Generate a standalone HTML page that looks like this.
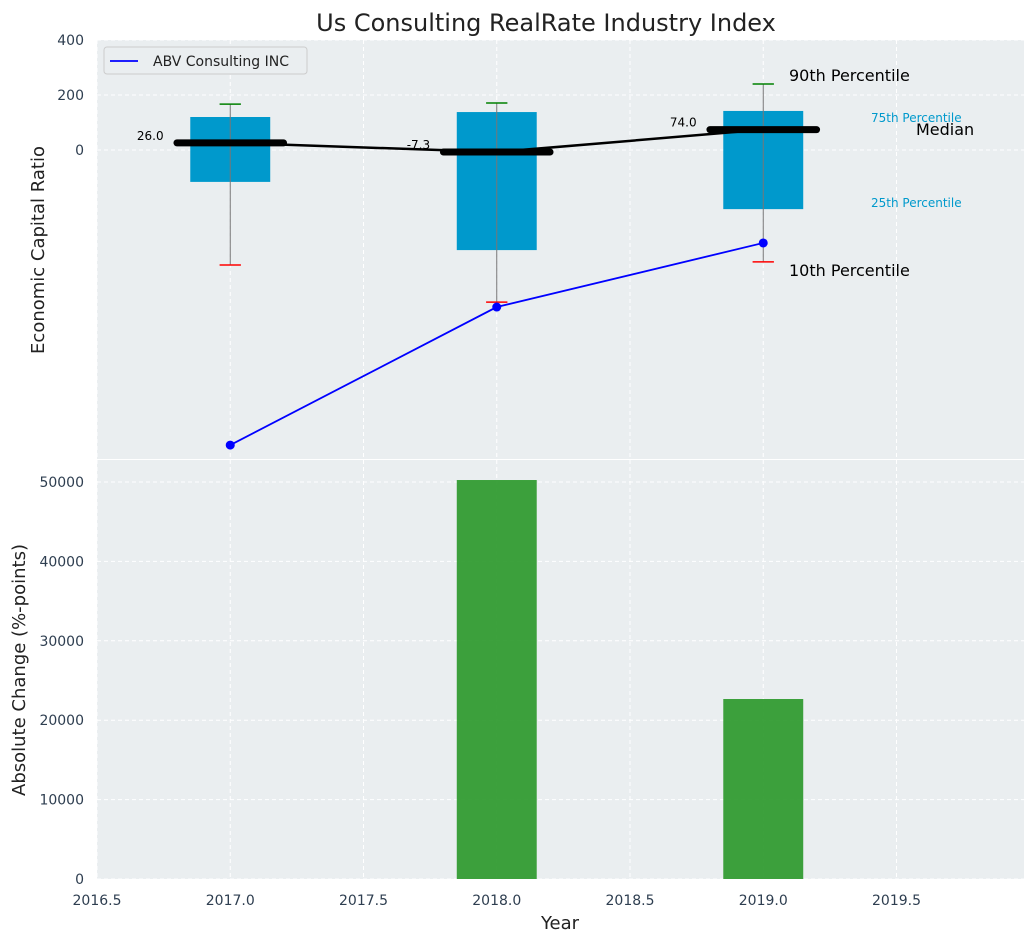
<!DOCTYPE html>
<html><head><meta charset="utf-8"><style>
body{margin:0;background:#fff;font-family:"Liberation Sans","DejaVu Sans",sans-serif}
svg text{font-family:"DejaVu Sans","Liberation Sans",sans-serif}
</style></head><body>
<svg id="c" width="1036" height="942" xmlns="http://www.w3.org/2000/svg"></svg>
<script>
const years=[2017,2018,2019];
const q75=[120,138,142];
const q25=[-116,-364,-215];
const p90=[167,171,240];
const p10=[-418,-553,-407];
const medians=[26.0,-7.3,74.0];
const company=[-1073,-571,-338];
const absChange=[0,50250,22670];
const xTicks=[2016.5,2017.0,2017.5,2018.0,2018.5,2019.0,2019.5];
const yTopTicks=[0,200,400];
const yBotTicks=[0,10000,20000,30000,40000,50000];

const NS="http://www.w3.org/2000/svg";
const svg=document.getElementById('c');
const L=97,R=1024;
const X=v=>L+(v-2016.5)*266.5;
const T0=40,T1=459,B0=460,B1=879;
const YT=v=>150-v*0.275;
const YB=v=>879-v*397/50000;
function el(tag,attrs,parent,name,inter){const e=document.createElementNS(NS,tag);for(const k in attrs)e.setAttribute(k,attrs[k]);


(parent||svg).appendChild(e);return e;}
function txt(s,attrs,name){const e=el('text',attrs,svg,name,false);e.textContent=s;return e;}

el('rect',{x:L,y:T0,width:R-L,height:T1-T0,fill:'#eaeef0'},svg,'top-plot-bg');
el('rect',{x:L,y:B0,width:R-L,height:B1-B0,fill:'#eaeef0'},svg,'bottom-plot-bg');
xTicks.forEach(t=>{el('line',{x1:X(t),x2:X(t),y1:T0,y2:T1,stroke:'#fff','stroke-dasharray':'4,3'},svg,'top-x-grid');
el('line',{x1:X(t),x2:X(t),y1:B0,y2:B1,stroke:'#fff','stroke-dasharray':'4,3'},svg,'bottom-x-grid');
txt(t.toFixed(1),{x:X(t),y:905,'text-anchor':'middle','font-size':14,fill:'#2e3e50'},'x-tick-label');});
yTopTicks.forEach(t=>{el('line',{x1:L,x2:R,y1:YT(t),y2:YT(t),stroke:'#fff','stroke-dasharray':'4,3'},svg,'top-y-grid');
txt(String(t),{x:84,y:YT(t)+5,'text-anchor':'end','font-size':14,fill:'#2e3e50'},'top-y-tick-label');});
yBotTicks.forEach(t=>{el('line',{x1:L,x2:R,y1:YB(t),y2:YB(t),stroke:'#fff','stroke-dasharray':'4,3'},svg,'bottom-y-grid');
txt(String(t),{x:84,y:YB(t)+5,'text-anchor':'end','font-size':14,fill:'#2e3e50'},'bottom-y-tick-label');});

years.forEach((y,i)=>{
 el('rect',{x:X(y-0.15),y:YT(q75[i]),width:X(y+0.15)-X(y-0.15),height:YT(q25[i])-YT(q75[i]),fill:'#0099cc'},svg,'iqr-box-'+y);
 el('line',{x1:X(y),x2:X(y),y1:YT(p90[i]),y2:YT(p10[i]),stroke:'#777','stroke-width':1},svg,'whisker-'+y);
 el('line',{x1:X(y-0.04),x2:X(y+0.04),y1:YT(p90[i]),y2:YT(p90[i]),stroke:'green','stroke-width':1.5},svg,'p90-cap-'+y);
 el('line',{x1:X(y-0.04),x2:X(y+0.04),y1:YT(p10[i]),y2:YT(p10[i]),stroke:'red','stroke-width':1.5},svg,'p10-cap-'+y);
});
el('polyline',{points:years.map((y,i)=>X(y)+','+YT(medians[i])).join(' '),fill:'none',stroke:'#000','stroke-width':2.5},svg,'median-line');
years.forEach((y,i)=>{
 el('line',{x1:X(y-0.2),x2:X(y+0.2),y1:YT(medians[i]),y2:YT(medians[i]),stroke:'#000','stroke-width':7,'stroke-linecap':'round'},svg,'median-bar-'+y);
 txt(medians[i].toFixed(1),{x:X(y-0.25),y:YT(medians[i])-3,'text-anchor':'end','font-size':12,fill:'#000'},'median-label-'+y);
});
el('polyline',{points:years.map((y,i)=>X(y)+','+YT(company[i])).join(' '),fill:'none',stroke:'blue','stroke-width':1.8},svg,'company-line');
years.forEach((y,i)=>el('circle',{cx:X(y),cy:YT(company[i]),r:4.5,fill:'blue'},svg,'company-point-'+y));

txt('90th Percentile',{x:789,y:81,'font-size':16,fill:'#000'},'p90-annotation');
txt('10th Percentile',{x:789,y:276,'font-size':16,fill:'#000'},'p10-annotation');
txt('75th Percentile',{x:871,y:122,'font-size':12,fill:'#0099cc'},'p75-annotation');
txt('25th Percentile',{x:871,y:207,'font-size':12,fill:'#0099cc'},'p25-annotation');
txt('Median',{x:916,y:135,'font-size':16,fill:'#000'},'median-annotation');

years.forEach((y,i)=>{if(absChange[i]>0)el('rect',{x:X(y-0.15),y:YB(absChange[i]),width:X(y+0.15)-X(y-0.15),height:YB(0)-YB(absChange[i]),fill:'#2e9a2e',opacity:0.93},svg,'change-bar-'+y);});

const lg=el('g',{},svg,'legend',false);
el('rect',{x:104,y:47,width:203,height:27,rx:3,fill:'#eaeef0',stroke:'#ccc'},lg,'legend-box',false);
el('line',{x1:110,x2:138,y1:61,y2:61,stroke:'blue','stroke-width':1.8},lg,'legend-swatch',false);
const lt=el('text',{x:153,y:66,'font-size':14,fill:'#222'},lg,'legend-label',false);lt.textContent='ABV Consulting INC';

txt('Us Consulting RealRate Industry Index',{x:546,y:31,'text-anchor':'middle','font-size':24,fill:'#222'},'chart-title');
txt('Economic Capital Ratio',{x:44,y:250,'text-anchor':'middle','font-size':18,fill:'#222',transform:'rotate(-90 44 250)'},'top-y-axis-title');
txt('Absolute Change (%-points)',{x:25,y:670,'text-anchor':'middle','font-size':18,fill:'#222',transform:'rotate(-90 25 670)'},'bottom-y-axis-title');
txt('Year',{x:560,y:929,'text-anchor':'middle','font-size':18,fill:'#222'},'x-axis-title');
</script>
</body></html>
